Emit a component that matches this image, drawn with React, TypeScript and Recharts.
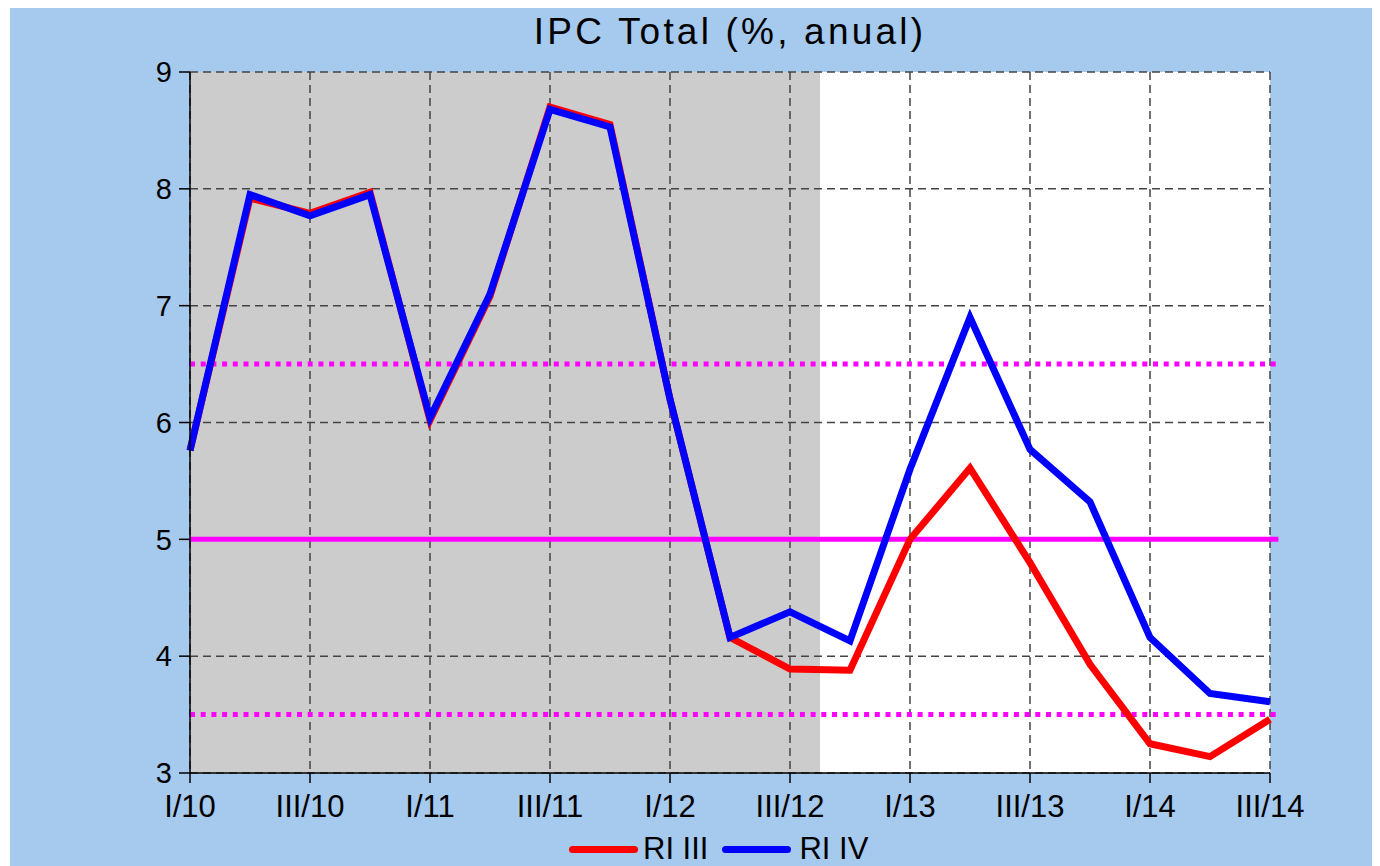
import {
    LineChart,
    Line,
    XAxis,
    YAxis,
    CartesianGrid,
    ReferenceLine
} from 'recharts';

const quarters = [
    'I/10', 'II/10', 'III/10', 'IV/10',
    'I/11', 'II/11', 'III/11', 'IV/11',
    'I/12', 'II/12', 'III/12', 'IV/12',
    'I/13', 'II/13', 'III/13', 'IV/13',
    'I/14', 'II/14', 'III/14'
];

// RI III (red) and RI IV (blue), % annual
const riIII = [5.76, 7.92, 7.79, 7.97, 6.02, 7.08, 8.7, 8.55, 6.2, 4.16, 3.89, 3.88, 5.0, 5.61, 4.8, 3.93, 3.25, 3.14, 3.46];
const riIV = [5.76, 7.95, 7.77, 7.95, 6.04, 7.1, 8.68, 8.53, 6.2, 4.16, 4.38, 4.13, 5.6, 6.9, 5.77, 5.32, 4.16, 3.68, 3.61];

const yTicks = [3, 4, 5, 6, 7, 8, 9];
const xTicks = [0, 2, 4, 6, 8, 10, 12, 14, 16, 18];

const target = 5;
const bandLow = 3.5;
const bandHigh = 6.5;
const historyEnd = 10.5;
const lastX = 18;

const data = quarters.map((q, i) => ({ idx: i, q, ri3: riIII[i], ri4: riIV[i] }));

const FONT = '"Liberation Sans", Arial, sans-serif';
const W = 1370;
const H = 858;

// background stripes: grey for history, white for forecast
const shadeGenerator = ({ xAxis, offset }: any) => {
    if (xAxis && typeof xAxis.scale === 'function') {
        return [xAxis.scale(0), xAxis.scale(historyEnd)];
    }
    return [offset.left, offset.left + (offset.width * historyEnd) / lastX];
};

export default function App() {
    return (
        <div
            style={{
                position: 'relative',
                width: W,
                height: H,
                marginLeft: 2,
                background: '#A6C9EE',
                fontFamily: FONT
            }}
        >
            <div
                style={{
                    position: 'absolute',
                    left: 180,
                    width: 1080,
                    top: 5,
                    textAlign: 'center',
                    fontSize: 37,
                    lineHeight: 1,
                    letterSpacing: 3.2,
                    color: '#000'
                }}
            >
                IPC Total (%, anual)
            </div>

            <LineChart
                width={W}
                height={H}
                data={data}
                margin={{ top: 64, right: 110, left: 0, bottom: 0 }}
            >
                <CartesianGrid
                    horizontal={false}
                    stroke="none"
                    verticalCoordinatesGenerator={shadeGenerator}
                    verticalFill={['#CCCCCC', '#FFFFFF']}
                    fillOpacity={1}
                />
                <CartesianGrid stroke="#444" strokeWidth={1.5} strokeDasharray="8 5" />
                <XAxis
                    dataKey="idx"
                    type="number"
                    domain={[0, lastX]}
                    ticks={xTicks}
                    interval={0}
                    tickFormatter={(v) => quarters[v]}
                    height={93}
                    tickSize={10}
                    tickMargin={12}
                    axisLine={{ stroke: '#000', strokeWidth: 1.5 }}
                    tickLine={{ stroke: '#000', strokeWidth: 1.5 }}
                    tick={{ fontSize: 31, fill: '#000', fontFamily: FONT }}
                />
                <YAxis
                    domain={[3, 9]}
                    ticks={yTicks}
                    interval={0}
                    width={180}
                    tickSize={11}
                    tickMargin={7}
                    axisLine={{ stroke: '#000', strokeWidth: 1.5 }}
                    tickLine={{ stroke: '#000', strokeWidth: 1.5 }}
                    tick={{ fontSize: 29, fill: '#000', fontFamily: FONT }}
                />
                <ReferenceLine
                    segment={[{ x: 0, y: target }, { x: 18.14, y: target }]}
                    stroke="#FF00FF"
                    strokeWidth={5}
                    ifOverflow="visible"
                />
                <ReferenceLine
                    segment={[{ x: 0, y: bandHigh }, { x: 18.14, y: bandHigh }]}
                    stroke="#FF00FF"
                    strokeWidth={5}
                    strokeDasharray="5 5.7"
                    ifOverflow="visible"
                />
                <ReferenceLine
                    segment={[{ x: 0, y: bandLow }, { x: 18.14, y: bandLow }]}
                    stroke="#FF00FF"
                    strokeWidth={5}
                    strokeDasharray="5 5.7"
                    ifOverflow="visible"
                />
                <Line
                    type="linear"
                    dataKey="ri3"
                    stroke="#FF0000"
                    strokeWidth={7}
                    dot={false}
                    isAnimationActive={false}
                />
                <Line
                    type="linear"
                    dataKey="ri4"
                    stroke="#0000FF"
                    strokeWidth={7}
                    dot={false}
                    isAnimationActive={false}
                />
            </LineChart>

            <div
                style={{
                    position: 'absolute',
                    left: 559,
                    top: 822,
                    display: 'flex',
                    alignItems: 'center',
                    fontSize: 31,
                    lineHeight: '38px',
                    color: '#000'
                }}
            >
                <span style={{ width: 69, height: 7, borderRadius: 4, background: '#FF0000', marginRight: 5 }} />
                <span style={{ marginRight: 14 }}>RI III</span>
                <span style={{ width: 69, height: 7, borderRadius: 4, background: '#0000FF', marginRight: 8 }} />
                <span>RI IV</span>
            </div>
        </div>
    );
}
